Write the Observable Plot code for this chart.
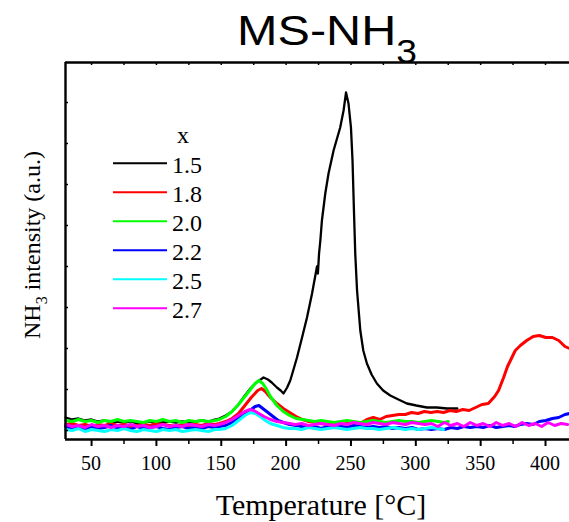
<!DOCTYPE html>
<html><head><meta charset="utf-8">
<script src="https://cdn.jsdelivr.net/npm/d3@7"></script>
<script src="https://cdn.jsdelivr.net/npm/@observablehq/plot@0.6"></script>
<style>body{margin:0;background:#fff}</style>
</head><body><div id="chart"></div>
<script>
// series labels (x) and colours
const seriesNames = ["1.5","1.8","2.0","2.2","2.5","2.7"];
const seriesColors = ["#000000","#ff0000","#00ff00","#0000ff","#00ffff","#ff00ff"];

// [Temperature °C, NH3 intensity (a.u.)]
const s15 = [[30,21],[35,19],[40,20],[45,18],[50,19],[55,17],[60,18],[65,16],[70,17],[75,16],[80,17],[85,15],[90,16],[95,17],[100,15],[105,16],[110,17],[115,16],[120,17],[125,16],[130,17],[135,18],[140,17],[145,19],[148.5,20],[153.4,23],[158.3,27],[163.3,34],[168.2,43],[173.1,51],[178.1,57],[182.6,61],[186.0,59],[188.9,56],[192.9,51],[195.8,48],[198.0,45],[200.8,51],[203.2,58],[205.7,69],[208.4,81],[212.1,100],[216.1,121],[220.0,145],[223.8,172],[224.5,165],[225.4,185],[226.4,198],[227.6,218],[230.2,245],[232.7,265],[236.6,288],[241.7,311],[244.3,328],[246.2,346],[248.1,335],[250.0,311],[251.2,278],[252.3,228],[253.3,185],[254.7,148],[257.2,108],[259.5,88],[262.3,75],[265.9,64],[270.0,55],[274.8,48],[280.3,43],[286.6,39],[293.1,35],[300.4,33],[308.6,31],[316.2,31],[324.0,30],[332.0,30]];
const s18 = [[30,14],[35,15],[40,13],[45,14],[50,12],[55,14],[60,13],[65,15],[70,13],[75,14],[80,12],[85,13],[90,14],[95,13],[100,15],[105,14],[110,13],[115,12],[120,14],[125,13],[130,14],[135,13],[140,15],[145,14],[148.5,15],[153.4,17],[158.3,20],[163.3,25],[168.2,33],[173.1,41],[178.1,48],[181.0,50],[184.0,47],[187.9,41],[192.9,35],[197.8,30],[202.7,26],[207.7,22],[212.6,19],[217.5,17],[222.5,16],[227,15],[232,14],[237,15],[242,14],[247,15],[252,16],[257,15],[262.3,19],[267.2,21],[272.2,19],[277.1,22],[282.0,23],[287.0,24],[291.9,24],[296.7,26],[301.7,25],[306.6,27],[311.5,26],[316.5,27],[321.4,26],[326.3,28],[331.2,27],[336.2,29],[341.1,28],[346.1,31],[351.0,34],[355.9,35],[360.8,42],[363.8,48],[367.7,61],[370.7,72],[373.7,80],[376.7,88],[380.6,93],[385.5,98],[390.5,102],[395.2,103],[400.3,101],[405.3,101],[410.2,98],[415.0,92],[418.5,90]];
const s20 = [[30,18],[35,17],[40,19],[45,17],[50,18],[55,16],[60,18],[65,17],[70,19],[75,17],[80,18],[85,17],[90,16],[95,18],[100,17],[105,19],[110,17],[115,18],[120,16],[125,18],[130,17],[135,18],[140,17],[145,18],[148.5,19],[153.4,22],[158.3,27],[163.3,34],[168.2,42],[173.1,50],[176.1,55],[179.0,58],[182.0,55],[185.0,49],[187.9,42],[192.9,33],[197.8,27],[202.7,23],[207.7,20],[212.6,19],[217.5,18],[222,17],[227,18],[232,17],[237,16],[242,17],[247,18],[252,17],[257,16],[262,17],[267,18],[272,17],[277,16],[282,17],[287,18],[292,17],[297,17],[302,16],[307,17],[312,18],[317,17],[322,16],[325,17]];
const s22 = [[30,12],[35,10],[40,11],[45,9],[50,12],[55,10],[60,11],[65,13],[70,10],[75,11],[80,9],[85,12],[90,10],[95,11],[100,12],[105,10],[110,9],[115,11],[120,12],[125,10],[130,11],[135,10],[140,12],[145,11],[148.5,12],[153.4,13],[158.3,16],[163.3,20],[168.2,25],[173.1,29],[176.1,32],[179.0,33],[182.0,30],[186.0,26],[189.9,22],[193.9,18],[197.8,16],[202.7,14],[207.7,13],[212,12],[217,11],[222,12],[227,10],[232,12],[237,11],[242,12],[247,11],[252,13],[257,12],[262,11],[267,12],[272,11],[277,12],[282,10],[287,11],[292,10],[297,11],[302,9],[307,10],[312,9],[317,10],[322,9],[327,11],[332,10],[337,12],[342,11],[347,12],[352,11],[357,13],[362,11],[367,12],[372,13],[376,12],[380.6,14],[385.5,15],[390.5,14],[395.2,17],[400.3,18],[405.3,20],[410.2,21],[415.0,24],[418.5,25]];
const s25 = [[30,9],[35,8],[40,10],[45,7],[50,9],[55,8],[60,7],[65,9],[70,8],[75,10],[80,8],[85,7],[90,9],[95,8],[100,7],[105,9],[110,8],[115,9],[120,7],[125,8],[130,9],[135,8],[140,7],[145,9],[148.5,9],[153.4,10],[158.3,13],[163.3,18],[168.2,23],[172.2,26],[176.1,25],[180.0,22],[184.0,18],[187.9,15],[192.9,13],[197.8,11],[202.7,10],[207,10],[212,9],[217,11],[222,10],[227,9],[232,10],[237,11],[242,10],[247,9],[252,10],[257,11],[262,10],[267,10],[272,9],[277,10],[282,11],[287,10],[292,9],[297,10],[302,9],[307,10],[312,11],[317,10],[321.4,9]];
const s27 = [[30,14],[35,12],[40,13],[45,11],[50,14],[55,12],[60,13],[65,11],[70,13],[75,12],[80,14],[85,12],[90,13],[95,11],[100,12],[105,14],[110,12],[115,13],[120,12],[125,14],[130,13],[135,12],[140,14],[145,13],[148.5,14],[153.4,16],[158.3,19],[163.3,23],[168.2,27],[172.2,29],[175.1,28],[179.0,25],[183.0,22],[187.9,19],[192.9,17],[197.8,16],[202.7,15],[207,14],[212,15],[217,13],[222,14],[227,15],[232,14],[237,13],[242,15],[247,14],[252,16],[257,15],[262,14],[267,16],[272,15],[277,14],[282,16],[287,15],[292,14],[297,16],[302,15],[307,14],[312,15],[317,12],[322,16],[327,13],[332,15],[337,12],[342,16],[347,13],[352,15],[357,12],[362,16],[367,13],[372,15],[377,12],[382,16],[387,13],[392,15],[397,12],[402,16],[407,13],[412,15],[417,14]];

// axis ticks
const majorTicks = [50,100,150,200,250,300,350,400];
const minorTicks = [75,125,175,225,275,325,375];
const topTicks = [50,75,100,125,150,175,200,225,250,275,300,325,350,375,400];
const leftTicks = [8,49,90,131,172,213,254,295,336];

const xDomain = [29.9, 418.5];
const yDomain = [-1, 376];
const series = [s15, s18, s20, s22, s25, s27];

const chart = Plot.plot({
  width: 569, height: 522,
  marginLeft: 65, marginRight: 0, marginTop: 62, marginBottom: 83,
  style: {background: "white", color: "black", overflow: "visible"},
  x: {domain: xDomain, axis: null},
  y: {domain: yDomain, axis: null},
  marks: [
    ...series.map((s, i) => Plot.line(s, {x: d => d[0], y: d => d[1], stroke: seriesColors[i], strokeWidth: i ? 3 : 2.3})),
    Plot.ruleX(majorTicks, {y1: -1, y2: -8, strokeWidth: 2}),
    Plot.ruleX(minorTicks, {y1: -1, y2: -6, strokeWidth: 1.5}),
    Plot.ruleX(topTicks, {y1: 376, y2: 373, strokeWidth: 1.5}),
    Plot.ruleY(leftTicks, {x1: xDomain[0], x2: xDomain[0] + 2.3, strokeWidth: 1.5}),
    Plot.ruleY([yDomain[0]], {strokeWidth: 2.6}),
    Plot.ruleY([yDomain[1]], {strokeWidth: 2.6}),
    Plot.ruleX([xDomain[0]], {strokeWidth: 2.4})
  ]
});
document.getElementById("chart").appendChild(chart);

const svg = d3.select(chart);
const xs = chart.scale("x"), ys = chart.scale("y");
const SERIF = "'Liberation Serif', 'Times New Roman', serif";

// x tick labels through the chart's x scale
const tl = svg.append("g").style("font-family", SERIF).style("font-size", "20px").attr("fill", "black");
majorTicks.forEach(v => {
  tl.append("text").attr("x", xs.apply(v)).attr("y", ys.apply(yDomain[0]) + 31)
    .attr("text-anchor", "middle").text(String(v));
});

// title
const t = svg.append("text")
  .attr("transform", "translate(327,45) scale(1.13,1)")
  .attr("text-anchor", "middle")
  .style("font-family", "'Liberation Sans', Arial, sans-serif")
  .style("font-size", "43px").attr("fill", "black");
t.append("tspan").text("MS-NH");
t.append("tspan").attr("dy", 18).style("font-size", "33px").text("3");

// y label
const yl = svg.append("text")
  .attr("transform", "translate(40,245) rotate(-90)")
  .attr("text-anchor", "middle")
  .style("font-family", SERIF)
  .style("font-size", "24px").attr("fill", "black");
yl.append("tspan").text("NH");
yl.append("tspan").attr("dy", 7).style("font-size", "16px").text("3");
yl.append("tspan").attr("dy", -7).text(" intensity (a.u.)");

// x label
svg.append("text")
  .attr("x", 321).attr("y", 515)
  .attr("text-anchor", "middle")
  .style("font-family", SERIF)
  .style("font-size", "30px").attr("fill", "black")
  .text("Temperature [°C]");

// legend
const lg = svg.append("g").style("font-family", SERIF).style("font-size", "24px").attr("fill", "black");
lg.append("text").attr("x", 183).attr("y", 143).attr("text-anchor", "middle").text("x");
seriesNames.forEach((name, i) => {
  const y = 163.3 + 29 * i;
  lg.append("line").attr("x1", 113).attr("x2", 167).attr("y1", y).attr("y2", y)
    .attr("stroke", seriesColors[i]).attr("stroke-width", 2);
  lg.append("text").attr("x", 172).attr("y", y + 10).attr("text-anchor", "start").text(name);
});
</script>
</body></html>
